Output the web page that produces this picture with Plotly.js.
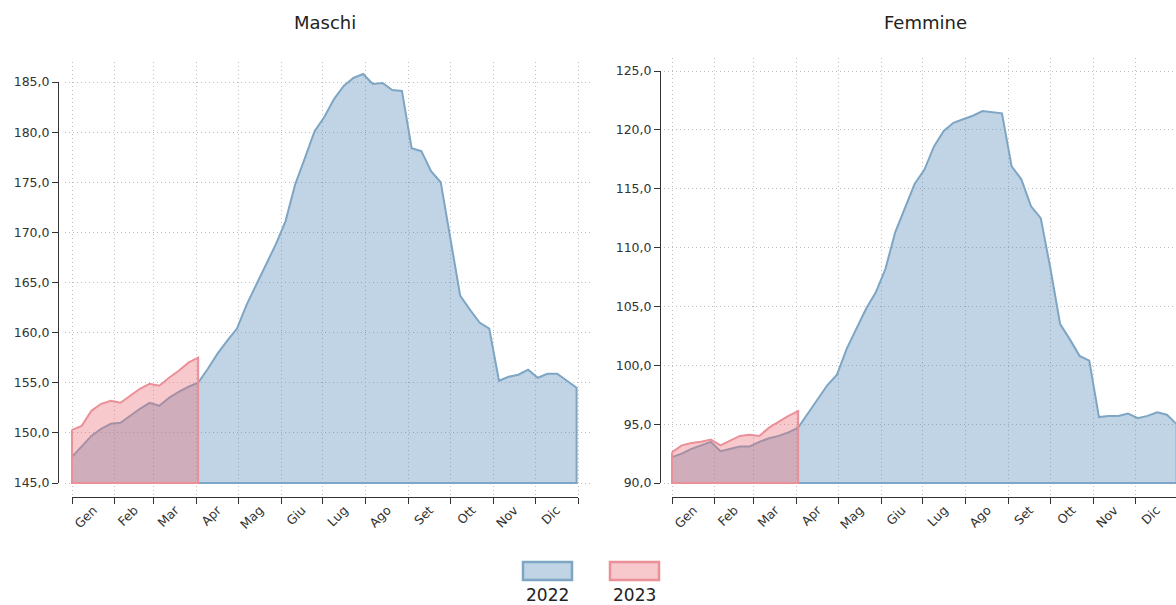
<!DOCTYPE html>
<html>
<head>
<meta charset="utf-8">
<script src="https://cdn.plot.ly/plotly-3.0.1.min.js"></script>
<style>
html,body{margin:0;padding:0;overflow:hidden;background:#fff;}
#chart{width:1200px;height:605px;}
</style>
</head>
<body>
<div id="chart"></div>
<script>
// Week index within the year (0 = 1 Jan), plotted on a common reference year
const weeks2022 = [0,1,2,3,4,5,6,7,8,9,10,11,12,13,14,15,16,17,18,19,20,21,22,23,24,25,26,27,28,29,30,31,32,33,34,35,36,37,38,39,40,41,42,43,44,45,46,47,48,49,50,51,52];
const weeks2023 = [0,1,2,3,4,5,6,7,8,9,10,11,12,13];

const maschi2022 = [147.6,148.6,149.7,150.4,150.9,151.0,151.7,152.4,153.0,152.7,153.5,154.1,154.6,155.0,
  156.4,157.9,159.2,160.4,162.8,164.8,166.8,168.8,171.1,174.8,177.4,180.1,181.5,183.3,184.6,185.4,185.8,
  184.8,184.9,184.2,184.1,178.4,178.1,176.1,175.0,169.5,163.7,162.3,161.0,160.4,155.2,155.6,155.8,156.3,
  155.5,155.9,155.9,155.2,154.5];
const maschi2023 = [150.3,150.7,152.2,152.9,153.2,153.0,153.7,154.4,154.9,154.7,155.5,156.2,157.0,157.5];

const femmine2022 = [92.2,92.5,92.9,93.2,93.5,92.7,92.9,93.1,93.1,93.5,93.8,94.0,94.3,94.7,
  95.9,97.1,98.3,99.2,101.4,103.1,104.8,106.2,108.2,111.3,113.4,115.4,116.6,118.6,119.9,120.6,120.9,
  121.2,121.6,121.5,121.4,116.9,115.8,113.5,112.5,108.2,103.5,102.2,100.8,100.4,95.6,95.7,95.7,95.9,
  95.5,95.7,96.0,95.8,95.0];
const femmine2023 = [92.6,93.2,93.4,93.5,93.7,93.2,93.6,94.0,94.1,94.0,94.7,95.2,95.7,96.1];

const titles = ['Maschi', 'Femmine'];
const years = ['2022', '2023'];
const yRangeM = [145, 185];
const yRangeF = [90, 125];
const monthAlias = {Jan:'Gen', May:'Mag', Jun:'Giu', Jul:'Lug', Aug:'Ago', Sep:'Set', Oct:'Ott', Dec:'Dic'};

const blueFill = 'rgba(70,130,180,0.34)';
const blueLine = '#7ea6c4';
const redFill = 'rgba(235,105,115,0.36)';
const redLine = '#eb9098';

const DAY = 86400000;
const T0 = Date.UTC(2022,0,1), T1 = Date.UTC(2023,0,1);

function weekDate(k){
  return new Date(T0 + k*7*DAY).toISOString().slice(0,10);
}
// closed polygon down to the axis baseline
function area(weeks, vals, base, xa, ya, fill, line, name){
  const xs = weeks.map(weekDate);
  const x = xs.concat([xs[xs.length-1], xs[0], xs[0]]);
  const y = vals.concat([base, base, vals[0]]);
  return {x:x, y:y, xaxis:xa, yaxis:ya, type:'scatter', mode:'lines', fill:'toself',
    fillcolor:fill, line:{color:line, width:2}, name:name, showlegend:false, hoverinfo:'skip'};
}
// invisible carrier so the display-only axes get a subplot
function carrier(weeks, vals, xa, ya){
  return {x:weeks.map(weekDate), y:vals, xaxis:xa, yaxis:ya, type:'scatter', mode:'none',
    showlegend:false, hoverinfo:'skip'};
}

const data = [
  area(weeks2022, maschi2022, yRangeM[0], 'x', 'y', blueFill, blueLine, years[0]),
  area(weeks2023, maschi2023, yRangeM[0], 'x', 'y', redFill, redLine, years[1]),
  area(weeks2022, femmine2022, yRangeF[0], 'x2', 'y2', blueFill, blueLine, years[0]),
  area(weeks2023, femmine2023, yRangeF[0], 'x2', 'y2', redFill, redLine, years[1]),
  carrier(weeks2022, maschi2022, 'x3', 'y3'),
  carrier(weeks2022, femmine2022, 'x4', 'y4')
];

const W = 1200, H = 605;
const px = v => v / W;
const py = v => 1 - v / H;
const FONT = 'DejaVu Sans, Verdana, sans-serif';
const tickFont = {family:FONT, size:12.5, color:'#333'};
const gridColor = '#bdbdbd';
const gridDash = '1px,3px';

// Geometry (pixels): where the year and the value range sit, and the wider grid area
const G = {
  left:  {x0:72,  x1:578,  yTop:82, yBot:483, gx0:65,  gx1:590,  gy0:62, gy1:495, yAxisX:58,  range:yRangeM},
  right: {x0:672, x1:1178, yTop:71, yBot:483, gx0:664, gx1:1190, gy0:58, gy1:495, yAxisX:660, range:yRangeF}
};
const xAxisY = 497;

function gridXAxis(g){
  const msPerPx = (T1 - T0) / (g.x1 - g.x0);
  return {domain:[px(g.gx0), px(g.gx1)], anchor:'free', position:py(g.gy1), type:'date',
    range:[T0 - (g.x0 - g.gx0)*msPerPx, T1 + (g.gx1 - g.x1)*msPerPx], autorange:false,
    dtick:'M1', tick0:'2022-01-01', showticklabels:false, ticks:'', showline:false,
    showgrid:true, gridcolor:gridColor, griddash:gridDash, gridwidth:1, zeroline:false, fixedrange:true};
}
function gridYAxis(g){
  const uPerPx = (g.range[1] - g.range[0]) / (g.yBot - g.yTop);
  return {domain:[py(g.gy1), py(g.gy0)], anchor:'free', position:px(g.gx0),
    range:[g.range[0] - (g.gy1 - g.yBot)*uPerPx, g.range[1] + (g.yTop - g.gy0)*uPerPx], autorange:false,
    dtick:5, tick0:g.range[0], showticklabels:false, ticks:'', showline:false,
    showgrid:true, gridcolor:gridColor, griddash:gridDash, gridwidth:1, zeroline:false, fixedrange:true};
}
function showXAxis(g){
  return {domain:[px(g.x0), px(g.x1)], anchor:'free', position:py(xAxisY), type:'date',
    range:[T0, T1], autorange:false,
    dtick:'M1', tick0:'2022-01-01', ticklabelmode:'period', tickformat:'%b', labelalias:monthAlias,
    tickangle:-45, ticks:'outside', ticklen:6, tickcolor:'#333', tickfont:tickFont, ticklabelstandoff:-6,
    showline:true, linecolor:'#333', linewidth:1, showgrid:false, zeroline:false, fixedrange:true};
}
function showYAxis(g){
  return {domain:[py(g.yBot), py(g.yTop)], anchor:'free', position:px(g.yAxisX), range:g.range, autorange:false,
    dtick:5, tick0:g.range[0], tickformat:'.1f', ticks:'outside', ticklen:6, tickcolor:'#333',
    tickfont:tickFont, showline:true, linecolor:'#333', linewidth:1,
    showgrid:false, zeroline:false, fixedrange:true};
}

const annFont = {family:FONT, size:18, color:'#222'};
const legFont = {family:FONT, size:17, color:'#222'};

const layout = {
  width:W, height:H, margin:{l:0,r:0,t:0,b:0}, paper_bgcolor:'#fff', plot_bgcolor:'rgba(0,0,0,0)',
  separators:',.', showlegend:false,
  xaxis: gridXAxis(G.left),  yaxis: gridYAxis(G.left),
  xaxis2: gridXAxis(G.right), yaxis2: gridYAxis(G.right),
  xaxis3: showXAxis(G.left),  yaxis3: showYAxis(G.left),
  xaxis4: showXAxis(G.right), yaxis4: showYAxis(G.right),
  annotations:[
    {text:titles[0], xref:'paper', yref:'paper', x:px(325), y:py(23), xanchor:'center', yanchor:'middle', showarrow:false, font:annFont},
    {text:titles[1], xref:'paper', yref:'paper', x:px(925), y:py(23), xanchor:'center', yanchor:'middle', showarrow:false, font:annFont},
    {text:years[0], xref:'paper', yref:'paper', x:px(547), y:py(595), xanchor:'center', yanchor:'middle', showarrow:false, font:legFont},
    {text:years[1], xref:'paper', yref:'paper', x:px(634), y:py(595), xanchor:'center', yanchor:'middle', showarrow:false, font:legFont}
  ],
  shapes:[
    {type:'rect', xref:'paper', yref:'paper', x0:px(523), x1:px(572), y0:py(580), y1:py(562),
     fillcolor:blueFill, line:{color:blueLine, width:2.5}},
    {type:'rect', xref:'paper', yref:'paper', x0:px(610), x1:px(659), y0:py(580), y1:py(562),
     fillcolor:redFill, line:{color:redLine, width:2.5}}
  ]
};

Plotly.newPlot('chart', data, layout, {staticPlot:true, displayModeBar:false});
</script>
</body>
</html>
